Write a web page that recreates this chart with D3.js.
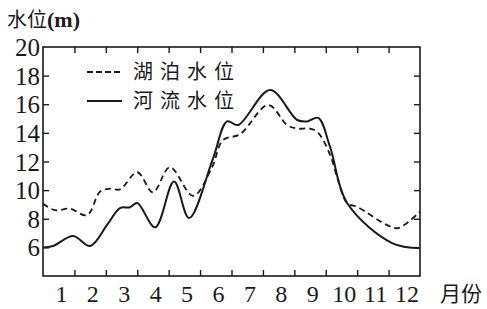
<!DOCTYPE html>
<html lang="zh">
<head>
<meta charset="UTF-8">
<title>湖泊水位与河流水位</title>
<script src="https://d3js.org/d3.v7.min.js"></script>
<style>
  body { margin: 0; background: #fff; }
  svg { display: block; }
</style>
</head>
<body>
<div id="chart"></div>
<script>
// month positions (0 = start of Jan, 12 = end of Dec) and water levels (m)
const riverMonths = [0, 0.32, 0.96, 1.5, 2.05, 2.45, 2.77, 3.0, 3.57, 4.17, 4.65, 5.41, 5.86, 6.21, 7.23, 8.09, 8.41, 8.76, 9.14, 9.68, 11.11, 12];
const riverLevels = [6.0, 6.1, 6.8, 6.1, 7.6, 8.75, 8.8, 9.1, 7.4, 10.6, 8.05, 12.2, 14.8, 14.55, 17.0, 14.9, 14.8, 15.05, 13.0, 9.1, 6.3, 5.95];

const lakeMonths = [0, 0.38, 0.86, 1.4, 1.82, 2.13, 2.45, 3.0, 3.5, 4.04, 4.78, 5.38, 5.73, 6.27, 7.17, 7.77, 8.09, 8.5, 8.76, 9.14, 9.39, 9.68, 10.03, 10.96, 11.31, 12];
const lakeLevels = [9.05, 8.6, 8.7, 8.25, 9.9, 10.1, 10.05, 11.25, 9.85, 11.6, 9.6, 11.6, 13.5, 13.9, 15.95, 14.55, 14.3, 14.3, 14.0, 12.45, 10.7, 9.1, 8.8, 7.55, 7.35, 8.5];

const monthTicks = [1, 2, 3, 4, 5, 6, 7, 8, 9, 10, 11, 12];
const levelTicks = [6, 8, 10, 12, 14, 16, 18, 20];
const seriesNames = ["湖泊水位", "河流水位"];

const serif = '"Liberation Serif", "DejaVu Serif", "Times New Roman", serif';
const cjk = '"Noto Sans CJK SC", "Noto Sans", sans-serif';
const ink = "#1a1a1a";

const W = 487, H = 309;
const x = d3.scaleLinear().domain([0, 12]).range([43, 420]);
const y = d3.scaleLinear().domain([4, 20]).range([276, 47]);

const svg = d3.select("#chart").append("svg")
  .attr("width", W).attr("height", H);

// frame
svg.append("rect")
  .attr("x", x(0)).attr("y", y(20))
  .attr("width", x(12) - x(0)).attr("height", y(4) - y(20))
  .attr("fill", "none").attr("stroke", ink).attr("stroke-width", 1.6);

// inward ticks on all four sides
function styleAxis(g) {
  g.select(".domain").remove();
  g.selectAll(".tick line").attr("stroke", ink).attr("stroke-width", 1.4);
}
svg.append("g").attr("transform", `translate(0,${y(4)})`)
  .call(d3.axisBottom(x).tickValues(monthTicks.slice(0, -1)).tickSize(-6).tickFormat(""))
  .call(styleAxis);
svg.append("g").attr("transform", `translate(0,${y(20)})`)
  .call(d3.axisTop(x).tickValues(monthTicks.slice(0, -1)).tickSize(-6).tickFormat(""))
  .call(styleAxis);
svg.append("g").attr("transform", `translate(${x(0)},0)`)
  .call(d3.axisLeft(y).tickValues(levelTicks.slice(0, -1)).tickSize(-6).tickFormat(""))
  .call(styleAxis);
svg.append("g").attr("transform", `translate(${x(12)},0)`)
  .call(d3.axisRight(y).tickValues(levelTicks.slice(0, -1)).tickSize(-6).tickFormat(""))
  .call(styleAxis);

// tick labels
svg.selectAll(".ylab").data(levelTicks).join("text")
  .attr("x", 40).attr("y", d => y(d) + 9)
  .attr("text-anchor", "end")
  .attr("fill", ink)
  .style("font-family", serif).style("font-size", "25px")
  .text(d => d);

svg.selectAll(".xlab").data(monthTicks).join("text")
  .attr("x", d => x(d) - 13).attr("y", 302)
  .attr("text-anchor", "middle")
  .attr("fill", ink)
  .style("font-family", serif).style("font-size", "24px")
  .text(d => d);

svg.append("text")
  .attr("x", 440).attr("y", 301)
  .attr("fill", ink)
  .style("font-family", cjk).style("font-size", "21px")
  .text("月份");

// y title
const title = svg.append("text").attr("x", 7).attr("y", 27).attr("fill", ink);
title.append("tspan").style("font-family", cjk).style("font-size", "20px").text("水位");
title.append("tspan").style("font-family", serif).style("font-size", "22px")
  .style("font-weight", "bold").text("(m)");

// lines
const line = d3.line()
  .x(d => x(d[0])).y(d => y(d[1]))
  .curve(d3.curveCatmullRom.alpha(0.5));

svg.append("path")
  .datum(d3.zip(lakeMonths, lakeLevels))
  .attr("fill", "none").attr("stroke", ink)
  .attr("stroke-width", 1.8).attr("stroke-dasharray", "6,4")
  .attr("d", line);

svg.append("path")
  .datum(d3.zip(riverMonths, riverLevels))
  .attr("fill", "none").attr("stroke", ink)
  .attr("stroke-width", 2)
  .attr("d", line);

// legend
const legend = svg.append("g");
[0, 1].forEach(i => {
  const ly = 72 + i * 29;
  legend.append("line")
    .attr("x1", 87).attr("x2", 122).attr("y1", ly).attr("y2", ly)
    .attr("stroke", ink).attr("stroke-width", 1.8)
    .attr("stroke-dasharray", i === 0 ? "6,3" : null);
  legend.append("text")
    .attr("x", 133).attr("y", ly + 7)
    .attr("fill", ink)
    .style("font-family", cjk).style("font-size", "20px").style("letter-spacing", "7px")
    .text(seriesNames[i]);
});
</script>
</body>
</html>
